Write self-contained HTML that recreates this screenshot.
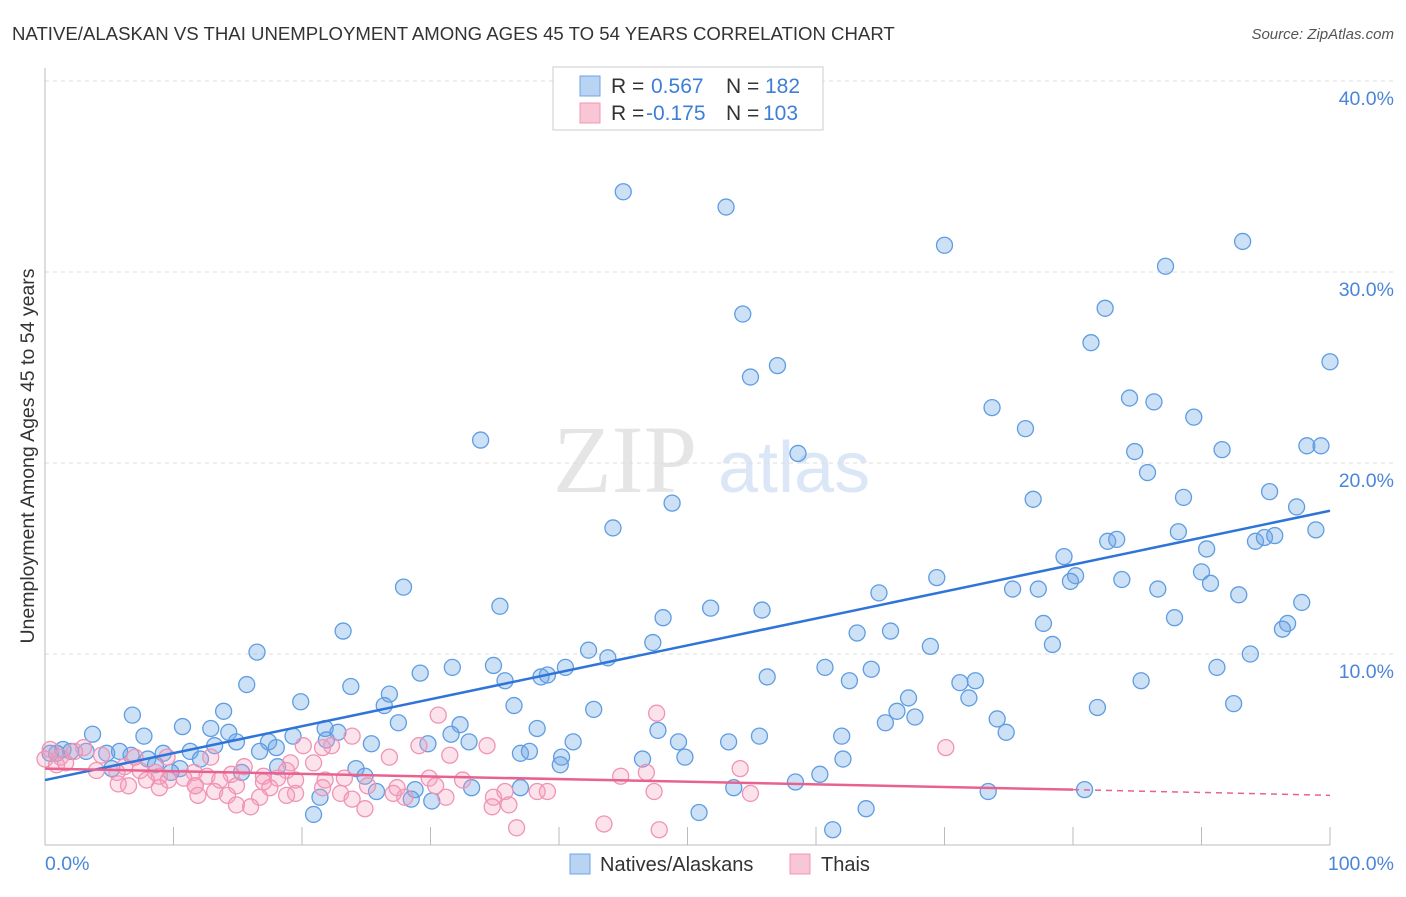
<!DOCTYPE html>
<html><head><meta charset="utf-8"><style>
body{margin:0;background:#fff;width:1406px;height:892px;overflow:hidden;font-family:"Liberation Sans",sans-serif}
</style></head><body>
<svg id="chart" width="1406" height="892" xmlns="http://www.w3.org/2000/svg" font-family="Liberation Sans, sans-serif">
<text x="12" y="40" font-size="18.6" fill="#333">NATIVE/ALASKAN VS THAI UNEMPLOYMENT AMONG AGES 45 TO 54 YEARS CORRELATION CHART</text>
<text x="1394" y="39" font-size="15" fill="#555" font-style="italic" text-anchor="end">Source: ZipAtlas.com</text>
<g opacity="0.5"><text x="553" y="492" font-size="96" fill="#ccc" font-family="Liberation Serif, serif">ZIP</text><text x="718" y="492" font-size="72" fill="#b8d0ee">atlas</text></g>
<g id="grid"></g><g id="axes"></g><g id="pts"></g><g id="lines"></g>
<text transform="translate(34,456) rotate(-90)" font-size="19.5" fill="#333" text-anchor="middle">Unemployment Among Ages 45 to 54 years</text>
<text x="45" y="870" font-size="19.5" fill="#4a86d8">0.0%</text>
<text x="1394" y="870" font-size="19.5" fill="#4a86d8" text-anchor="end">100.0%</text>
<g>
<rect x="553" y="67" width="270" height="63" fill="#fff" stroke="#ccc"/>
<rect x="580" y="76" width="20" height="20" fill="#b9d3f3" stroke="#6fa3e3"/>
<rect x="580" y="103" width="20" height="20" fill="#f9c6d6" stroke="#f095b6"/>
<text y="93" font-size="21" fill="#333"><tspan x="611">R =</tspan><tspan x="651" fill="#3d7ed6">0.567</tspan><tspan x="726">N =</tspan><tspan x="765" fill="#3d7ed6">182</tspan></text>
<text y="120" font-size="21" fill="#333"><tspan x="611">R =</tspan><tspan x="646" fill="#3d7ed6">-0.175</tspan><tspan x="726">N =</tspan><tspan x="763" fill="#3d7ed6">103</tspan></text>
</g>
<g>
<rect x="570" y="854" width="20" height="20" fill="#b9d3f3" stroke="#6fa3e3"/>
<text x="600" y="871" font-size="20" fill="#333">Natives/Alaskans</text>
<rect x="790" y="854" width="20" height="20" fill="#f9c6d6" stroke="#f095b6"/>
<text x="821" y="871" font-size="20" fill="#333">Thais</text>
</g>
</svg>
<script>
const yTicks=[10,20,30,40];
const yTickLabels=["10.0%","20.0%","30.0%","40.0%"];
const xTicks=[0,10,20,30,40,50,60,70,80,90,100];
const blueX=[45.0,53.0,70.0,93.2,87.2,54.3,82.5,81.4,54.9,57.0,100,73.7,84.4,86.3,89.4,33.9,76.3,84.8,91.6,98.2,99.3,58.6,85.8,76.9,95.3,88.6,48.8,97.4,44.2,98.9,88.2,82.7,83.4,94.2,94.9,95.7,90.4,79.3,80.2,79.8,90.0,90.7,83.8,69.4,75.3,77.3,86.6,92.9,64.9,27.9,35.4,51.8,55.8,97.8,48.1,87.9,77.7,96.7,96.3,23.2,65.8,63.2,47.3,78.4,68.9,42.3,16.5,43.8,93.8,34.9,31.7,40.5,60.7,91.2,64.3,29.2,38.6,39.1,35.8,56.2,62.6,85.3,71.2,72.4,15.7,23.8,26.8,71.9,67.2,19.9,26.4,36.5,92.5,81.9,42.7,13.9,66.3,6.8,67.7,74.1,65.4,27.5,32.3,10.7,12.9,21.8,38.3,47.7,3.7,14.3,22.8,7.7,19.3,31.6,74.8,62.0,55.6,14.9,41.1,53.2,49.3,17.4,33.0,21.9,29.8,25.4,13.2,18.0,11.3,16.7,5.8,4.8,6.7,3.2,1.4,2.0,0.9,0.4,9.2,37.0,37.7,40.2,49.8,46.5,62.1,8.0,12.1,8.6,10.5,40.1,18.1,5.2,15.3,9.8,24.2,24.9,60.3,58.4,53.6,33.2,37.0,28.8,25.8,21.4,73.4,80.9,28.5,30.1,20.9,50.9,63.9,61.3];
const blueY=[34.2,33.4,31.4,31.6,30.3,27.8,28.1,26.3,24.5,25.1,25.3,22.9,23.4,23.2,22.4,21.2,21.8,20.6,20.7,20.9,20.9,20.5,19.5,18.1,18.5,18.2,17.9,17.7,16.6,16.5,16.4,15.9,16.0,15.9,16.1,16.2,15.5,15.1,14.1,13.8,14.3,13.7,13.9,14.0,13.4,13.4,13.4,13.1,13.2,13.5,12.5,12.4,12.3,12.7,11.9,11.9,11.6,11.6,11.3,11.2,11.2,11.1,10.6,10.5,10.4,10.2,10.1,9.8,10.0,9.4,9.3,9.3,9.3,9.3,9.2,9.0,8.8,8.9,8.6,8.8,8.6,8.6,8.5,8.6,8.4,8.3,7.9,7.7,7.7,7.5,7.3,7.3,7.4,7.2,7.1,7.0,7.0,6.8,6.7,6.6,6.4,6.4,6.3,6.2,6.1,6.1,6.1,6.0,5.8,5.9,5.9,5.7,5.7,5.8,5.9,5.7,5.7,5.4,5.4,5.4,5.4,5.4,5.4,5.5,5.3,5.3,5.2,5.1,4.9,4.9,4.9,4.8,4.7,4.9,5.0,4.9,4.8,4.8,4.8,4.8,4.9,4.6,4.6,4.5,4.5,4.5,4.5,4.2,4.0,4.2,4.1,4.0,3.8,3.8,4.0,3.6,3.7,3.3,3.0,3.0,3.0,2.9,2.8,2.5,2.8,2.9,2.4,2.3,1.6,1.7,1.9,0.8];
const pinkX=[30.6,47.6,23.9,22.3,21.6,29.1,34.4,70.1,20.1,3.0,2.3,0.4,1.2,0,0.9,1.6,4.4,9.5,12.9,7.0,31.5,26.8,20.9,19.1,15.5,6.2,4.0,5.6,7.4,8.6,11.6,14.5,17.0,18.8,12.6,10.8,9.6,8.9,7.9,13.6,17.0,18.1,19.5,21.8,23.3,29.9,32.5,44.8,46.8,54.1,11.7,8.9,6.5,5.7,11.7,14.9,17.5,21.6,25.1,27.4,30.4,13.2,14.2,11.9,16.7,19.5,23.0,23.9,27.1,28.0,31.2,34.9,35.8,38.3,39.1,47.4,54.9,14.9,16.0,18.8,24.9,34.8,36.1,36.7,43.5,47.8];
const pinkY=[6.8,6.9,5.7,5.2,5.1,5.2,5.2,5.1,5.2,5.1,4.9,5.0,4.6,4.5,4.2,4.3,4.7,4.6,4.6,4.6,4.7,4.6,4.3,4.3,4.1,4.1,3.9,3.8,3.9,3.8,3.8,3.7,3.6,3.9,3.6,3.5,3.4,3.6,3.4,3.4,3.3,3.5,3.4,3.4,3.5,3.5,3.4,3.6,3.8,4.0,3.1,3.0,3.1,3.2,3.1,3.1,3.0,3.0,3.1,3.0,3.1,2.8,2.6,2.6,2.5,2.7,2.7,2.4,2.7,2.5,2.5,2.5,2.8,2.8,2.8,2.8,2.7,2.1,2.0,2.6,1.9,2.0,2.1,0.9,1.1,0.8];
const blueTrend=[[0,3.4],[100,17.5]];
const pinkTrend=[[0,4.0],[80,2.9],[100,2.6]];
const NS="http://www.w3.org/2000/svg";
const xs=v=>45+v*12.85, ys=v=>845-v*19.1;
function mk(p,t,a){const e=document.createElementNS(NS,t);for(const k in a)e.setAttribute(k,a[k]);document.getElementById(p).appendChild(e);return e;}
yTicks.forEach((t,i)=>{
 const l=mk('grid','line',{x1:45,x2:1394,y1:ys(t),y2:ys(t),stroke:'#ddd','stroke-dasharray':'4,4'});
 
 
 const tx=mk('grid','text',{x:1394,y:ys(t)+24,'font-size':19.5,fill:'#4a86d8','text-anchor':'end'});
 tx.textContent=yTickLabels[i];
 
 
});
const ya=mk('axes','line',{x1:45,x2:45,y1:68,y2:845,stroke:'#bbb'});


const xa=mk('axes','line',{x1:45,x2:1330,y1:845,y2:845,stroke:'#bbb'});


xTicks.forEach(t=>{
 const l=mk('axes','line',{x1:xs(t),x2:xs(t),y1:827,y2:845,stroke:'#bbb'});
 
 
});
blueX.forEach((x,i)=>{
 const c=mk('pts','circle',{cx:xs(x),cy:ys(blueY[i]),r:8,fill:'rgba(110,165,230,0.35)',stroke:'#5f9de2','stroke-width':1.3});
 
 
});
pinkX.forEach((x,i)=>{
 const c=mk('pts','circle',{cx:xs(x),cy:ys(pinkY[i]),r:8,fill:'rgba(245,160,190,0.3)',stroke:'#f093b4','stroke-width':1.3});
 
 
});
const bl=mk('lines','line',{x1:xs(blueTrend[0][0]),y1:ys(blueTrend[0][1]),x2:xs(blueTrend[1][0]),y2:ys(blueTrend[1][1]),stroke:'#2f74d8','stroke-width':2.5});


const pl=mk('lines','line',{x1:xs(pinkTrend[0][0]),y1:ys(pinkTrend[0][1]),x2:xs(pinkTrend[1][0]),y2:ys(pinkTrend[1][1]),stroke:'#e8628f','stroke-width':2.5});


const pd=mk('lines','line',{x1:xs(pinkTrend[1][0]),y1:ys(pinkTrend[1][1]),x2:xs(pinkTrend[2][0]),y2:ys(pinkTrend[2][1]),stroke:'#e8628f','stroke-width':1.5,'stroke-dasharray':'6,5'});


</script>
</body></html>
